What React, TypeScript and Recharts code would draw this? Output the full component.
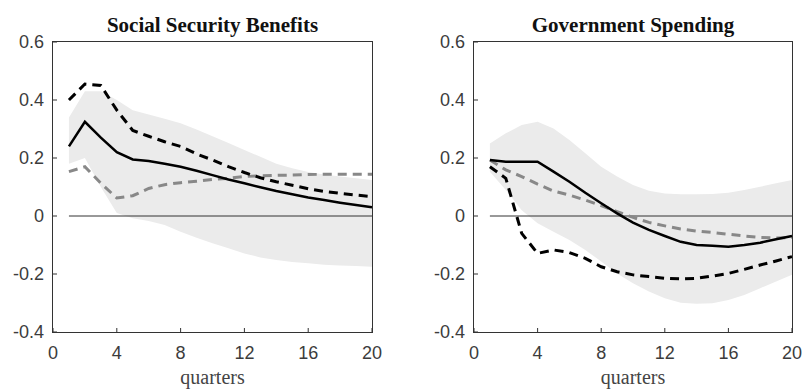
import { Area, ComposedChart, Line, ReferenceLine, XAxis, YAxis } from 'recharts'

const quarters = [1, 2, 3, 4, 5, 6, 7, 8, 9, 10, 11, 12, 13, 14, 15, 16, 17, 18, 19, 20]
const xTicks = [0, 4, 8, 12, 16, 20]
const yTicks = [-0.4, -0.2, 0, 0.2, 0.4, 0.6]

// Social Security Benefits
const ssbSolid = [0.24, 0.325, 0.27, 0.22, 0.195, 0.19, 0.18, 0.17, 0.156, 0.141, 0.126, 0.113, 0.099, 0.086, 0.075, 0.064, 0.055, 0.046, 0.038, 0.03]
const ssbBlackDash = [0.4, 0.455, 0.45, 0.365, 0.295, 0.275, 0.256, 0.24, 0.214, 0.193, 0.17, 0.15, 0.132, 0.118, 0.106, 0.094, 0.085, 0.078, 0.072, 0.067]
const ssbGreyDash = [0.153, 0.17, 0.113, 0.062, 0.07, 0.095, 0.108, 0.115, 0.12, 0.126, 0.13, 0.136, 0.139, 0.14, 0.141, 0.143, 0.144, 0.144, 0.144, 0.144]
const ssbBandHi = [0.34, 0.43, 0.43, 0.4, 0.365, 0.35, 0.335, 0.32, 0.298, 0.275, 0.252, 0.228, 0.204, 0.18, 0.165, 0.152, 0.143, 0.136, 0.13, 0.124]
const ssbBandLo = [0.18, 0.2, 0.1, 0.01, -0.008, -0.017, -0.031, -0.054, -0.075, -0.094, -0.111, -0.129, -0.143, -0.152, -0.159, -0.163, -0.168, -0.171, -0.172, -0.175]

// Government Spending
const govSolid = [0.193, 0.187, 0.187, 0.187, 0.153, 0.118, 0.08, 0.044, 0.009, -0.023, -0.048, -0.069, -0.089, -0.1, -0.103, -0.106, -0.1, -0.092, -0.08, -0.069]
const govBlackDash = [0.17, 0.13, -0.06, -0.129, -0.117, -0.126, -0.146, -0.175, -0.192, -0.203, -0.209, -0.215, -0.217, -0.215, -0.207, -0.198, -0.184, -0.169, -0.155, -0.14]
const govGreyDash = [0.193, 0.159, 0.136, 0.11, 0.086, 0.072, 0.055, 0.036, 0.015, -0.005, -0.022, -0.034, -0.045, -0.052, -0.057, -0.063, -0.069, -0.074, -0.076, -0.074]
const govBandHi = [0.25, 0.285, 0.314, 0.325, 0.302, 0.262, 0.216, 0.17, 0.136, 0.107, 0.087, 0.078, 0.075, 0.075, 0.076, 0.08, 0.09, 0.101, 0.113, 0.124]
const govBandLo = [0.153, 0.09, 0.02, -0.025, -0.054, -0.083, -0.117, -0.157, -0.198, -0.232, -0.26, -0.284, -0.299, -0.303, -0.301, -0.29, -0.272, -0.249, -0.226, -0.203]

const axisColor = '#333'
const labelColor = '#3c3c3c'
const sansFont = '"Liberation Sans", Arial, sans-serif'
const serifFont = '"Liberation Serif", "Times New Roman", serif'
const tickLen = 4
const plotTop = 42
const plotLeft = 53
const plotH = 290

function fmtY(v: number) {
  return v === 0 ? '0' : String(Number(v.toFixed(1)))
}

// matlab-style inward ticks, drawn as small rects at the tick position the axis hands us
function BottomTick({ x, y, payload }: any) {
  return (
    <g>
      <rect x={x - 0.5} y={y - tickLen} width={1} height={tickLen} fill={axisColor} />
      <text x={x} y={y + 14} dy="0.71em" textAnchor="middle" fontSize={18} fill={labelColor} fontFamily={sansFont}>
        {payload.value}
      </text>
    </g>
  )
}

function TopTick({ x, y }: any) {
  return <rect x={x - 0.5} y={y} width={1} height={tickLen} fill={axisColor} />
}

function LeftTick({ x, y, payload }: any) {
  return (
    <g>
      <rect x={x} y={y - 0.5} width={tickLen} height={1} fill={axisColor} />
      <text x={x - 9} y={y} dy="0.355em" textAnchor="end" fontSize={18} fill={labelColor} fontFamily={sansFont}>
        {fmtY(payload.value)}
      </text>
    </g>
  )
}

function RightTick({ x, y }: any) {
  return <rect x={x - tickLen} y={y - 0.5} width={tickLen} height={1} fill={axisColor} />
}

interface PanelProps {
  title: string
  solid: number[]
  blackDash: number[]
  greyDash: number[]
  bandHi: number[]
  bandLo: number[]
  left: number
  width: number
  marginRight: number
}

function Panel({ title, solid, blackDash, greyDash, bandHi, bandLo, left, width, marginRight }: PanelProps) {
  const data = quarters.map((q, i) => ({
    q,
    solid: solid[i],
    blackDash: blackDash[i],
    greyDash: greyDash[i],
    band: [bandLo[i], bandHi[i]],
  }))
  const plotW = width - plotLeft - marginRight

  return (
    <div style={{ position: 'absolute', left, top: 0, width, height: 389 }}>
      <div
        style={{
          position: 'absolute',
          left: plotLeft,
          top: 15,
          width: plotW,
          textAlign: 'center',
          fontFamily: serifFont,
          fontWeight: 'bold',
          fontSize: 21,
          lineHeight: '21px',
          color: '#111',
        }}
      >
        {title}
      </div>
      <ComposedChart width={width} height={389} data={data} margin={{ top: plotTop, right: marginRight, left: 0, bottom: 0 }}>
        <XAxis
          dataKey="q"
          type="number"
          domain={[0, 20]}
          ticks={xTicks}
          interval={0}
          height={57}
          tickSize={0}
          tickMargin={0}
          tick={<BottomTick />}
          axisLine={false}
          tickLine={false}
          label={{
            value: 'quarters',
            position: 'insideBottom',
            offset: 5,
            fill: '#444',
            fontSize: 20,
            fontFamily: serifFont,
          }}
        />
        <XAxis
          xAxisId="top"
          orientation="top"
          dataKey="q"
          type="number"
          domain={[0, 20]}
          ticks={xTicks}
          interval={0}
          height={0}
          tickSize={0}
          tickMargin={0}
          tick={<TopTick />}
          axisLine={false}
          tickLine={false}
        />
        <YAxis
          domain={[-0.4, 0.6]}
          ticks={yTicks}
          interval={0}
          width={plotLeft}
          tickSize={0}
          tickMargin={0}
          tick={<LeftTick />}
          axisLine={false}
          tickLine={false}
        />
        <YAxis
          yAxisId="right"
          orientation="right"
          domain={[-0.4, 0.6]}
          ticks={yTicks}
          interval={0}
          width={0}
          tickSize={0}
          tickMargin={0}
          tick={<RightTick />}
          axisLine={false}
          tickLine={false}
        />
        <Area
          dataKey="band"
          type="linear"
          fill="#ebebeb"
          fillOpacity={1}
          stroke="none"
          isAnimationActive={false}
        />
        <ReferenceLine
          segment={[
            { x: 1, y: 0 },
            { x: 20, y: 0 },
          ]}
          stroke="#333"
          strokeWidth={1}
        />
        <Line dataKey="greyDash" type="linear" stroke="#888" strokeWidth={3} strokeDasharray="9 6" dot={false} isAnimationActive={false} />
        <Line dataKey="blackDash" type="linear" stroke="#000" strokeWidth={3} strokeDasharray="9 6" dot={false} isAnimationActive={false} />
        <Line dataKey="solid" type="linear" stroke="#000" strokeWidth={2.5} dot={false} isAnimationActive={false} />
      </ComposedChart>
      {/* plot box */}
      <div
        style={{
          position: 'absolute',
          left: plotLeft - 1,
          top: plotTop - 1,
          width: plotW,
          height: plotH,
          border: `1px solid ${axisColor}`,
          pointerEvents: 'none',
        }}
      />
    </div>
  )
}

export default function App() {
  return (
    <div style={{ position: 'absolute', left: 0, top: 0, width: 802, height: 389, background: '#fff' }}>
      <Panel
        title="Social Security Benefits"
        solid={ssbSolid}
        blackDash={ssbBlackDash}
        greyDash={ssbGreyDash}
        bandHi={ssbBandHi}
        bandLo={ssbBandLo}
        left={0}
        width={400}
        marginRight={28}
      />
      <Panel
        title="Government Spending"
        solid={govSolid}
        blackDash={govBlackDash}
        greyDash={govGreyDash}
        bandHi={govBandHi}
        bandLo={govBandLo}
        left={421}
        width={381}
        marginRight={10}
      />
    </div>
  )
}
